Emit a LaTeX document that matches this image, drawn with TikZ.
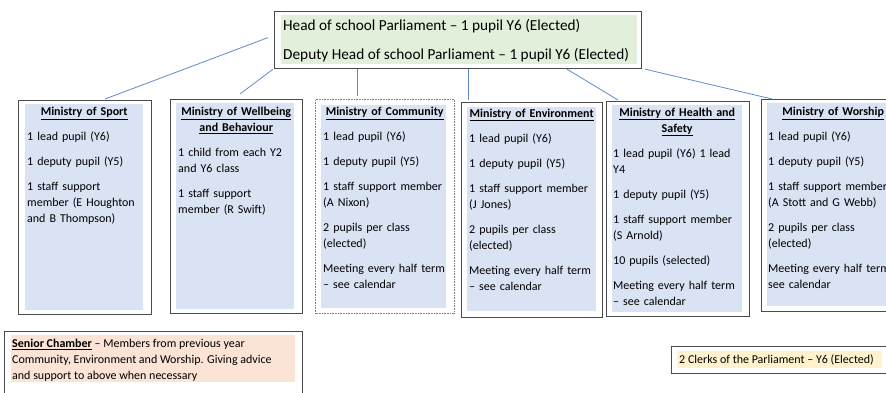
\documentclass[tikz,border=0pt]{standalone}
\usepackage{fontspec}
\setmainfont{Carlito}
\usetikzlibrary{calc}
\definecolor{bluefill}{RGB}{218,227,243}
\definecolor{greenfill}{RGB}{226,239,218}
\definecolor{peachfill}{RGB}{251,228,214}
\definecolor{creamfill}{RGB}{255,242,204}
\definecolor{linkblue}{RGB}{96,138,208}
\definecolor{framegray}{RGB}{75,75,75}
\newcommand{\mtitle}[1]{{\centering\strut\bfseries #1\par}}
\newcommand{\ulb}[1]{\underline{\textbf{#1}}}
\begin{document}
\begin{tikzpicture}[x=1pt,y=-1pt,
  frame/.style={draw=framegray,line width=1.2pt,rectangle,inner sep=0pt,anchor=north west},
  dotframe/.style={draw=gray,line width=1pt,dash pattern=on 0.8pt off 0.8pt,rectangle,inner sep=0pt,anchor=north west},
  mtext/.style={anchor=north west,inner sep=0pt,text width=#1,align=left,
    font=\fontsize{12}{16}\selectfont,execute at begin node={\setlength{\parskip}{9pt}}},
  link/.style={draw=linkblue,line width=0.8pt}]
\useasboundingbox (0,0) rectangle (886,392);
\clip (0,0) rectangle (886,392);
\fill[white] (0,0) rectangle (886,392);

% top box
\node[frame,minimum width=367,minimum height=57] (top) at (274,11) {};
\fill[greenfill] (281,15) rectangle (637,64);
\node[anchor=north west,inner sep=0pt,align=left,font=\fontsize{15.3}{18.5}\selectfont] (toptext) at (283,17.5)
  {\strut Head of school Parliament -- 1 pupil Y6 (Elected)\\[10.5pt]Deputy Head of school Parliament -- 1 pupil Y6 (Elected)};

% ministry frames
\node[frame,minimum width=133,minimum height=214] (sport) at (18,100) {};
\node[frame,minimum width=132,minimum height=214] (well) at (170,99) {};
\node[dotframe,minimum width=139,minimum height=214] (comm) at (315,99) {};
\node[frame,minimum width=141,minimum height=215] (env) at (461,102) {};
\node[frame,minimum width=143,minimum height=215] (health) at (606,101) {};
\node[frame,minimum width=140,minimum height=212] (wor) at (761,99) {};

% fills
\fill[bluefill] (25,104) rectangle (143,310);
\fill[bluefill] (176,103) rectangle (294,309);
\fill[bluefill] (321,105) rectangle (446,308);
\fill[bluefill] (467,107) rectangle (596,311);
\fill[bluefill] (612,105) rectangle (742,312);
\fill[bluefill] (767,103) rectangle (892,306);

% texts
\node[mtext=114] (sportt) at (27,104.2) {\mtitle{\ulb{Ministry of Sport}}
1 lead pupil (Y6)\par
1 deputy pupil (Y5)\par
1 staff support\\member (E Houghton\\and B Thompson)};

\node[mtext=116] (wellt) at (178,104.2) {\mtitle{\ulb{Ministry of Wellbeing}\\\ulb{and Behaviour}}
1 child from each Y2\\and Y6 class\par
1 staff support\\member (R Swift)};

\node[mtext=123] (commt) at (323,104.2) {\mtitle{\ulb{Ministry of Community}}
1 lead pupil (Y6)\par
1 deputy pupil (Y5)\par
1 staff support member\\(A Nixon)\par
2 pupils per class\\(elected)\par
Meeting every half term\\-- see calendar};

\node[mtext=125] (envt) at (469,106) {\mtitle{\ulb{Ministry of Environment}}
1 lead pupil (Y6)\par
1 deputy pupil (Y5)\par
1 staff support member\\(J Jones)\par
2 pupils per class\\(elected)\par
Meeting every half term\\-- see calendar};

\node[mtext=128] (healtht) at (613,105) {\mtitle{\ulb{Ministry of Health and}\\\ulb{Safety}}
1 lead pupil (Y6) 1 lead\\Y4\par
1 deputy pupil (Y5)\par
1 staff support member\\(S Arnold)\par
10 pupils (selected)\par
Meeting every half term\\-- see calendar};

\node[mtext=130] (wort) at (768,104.2) {\mtitle{\ulb{Ministry of Worship}}
1 lead pupil (Y6)\par
1 deputy pupil (Y5)\par
1 staff support member\\(A Stott and G Webb)\par
2 pupils per class\\(elected)\par
\mbox{Meeting every half term --}\\see calendar};

% bottom boxes
\node[frame,minimum width=298,minimum height=80] (senior) at (4,331) {};
\fill[peachfill] (11,335) rectangle (295,382);
\node[anchor=north west,inner sep=0pt,align=left,font=\fontsize{12}{16}\selectfont] (seniort) at (12,336)
  {\strut\ulb{Senior Chamber} -- Members from previous year\\Community, Environment and Worship. Giving advice\\and support to above when necessary};

\node[frame,minimum width=216,minimum height=27] (clerks) at (671,346) {};
\fill[creamfill] (677,351) rectangle (882,368);
\node[anchor=north west,inner sep=0pt,align=left,font=\fontsize{12}{16}\selectfont] (clerkst) at (679,351.7)
  {\strut 2 Clerks of the Parliament -- Y6 (Elected)};

% connectors
\draw[link] ($(top.west)+(-6,-2.5)$) -- ($(sport.north west)+(87,-1)$);
\draw[link] ($(top.south west)+(-1,0)$) -- ($(well.north west)+(70,-5)$);
\draw[link] ($(top.south west)+(83,0)$) -- ($(comm.north west)+(42,-3)$);
\draw[link] ($(top.south west)+(194,0)$) -- ($(env.north west)+(7,-2)$);
\draw[link] ($(top.south west)+(293,0)$) -- ($(health.north west)+(12,-1)$);
\draw[link] ($(top.south east)+(3,0)$) -- ($(wor.north west)+(11,0)$);
\end{tikzpicture}
\end{document}
